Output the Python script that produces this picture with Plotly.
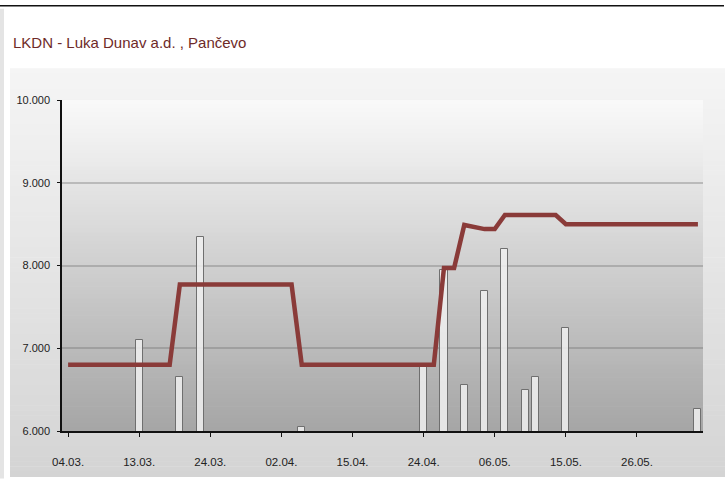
import plotly.graph_objects as go

# ---- data ----
tick_positions = [0, 7, 14, 21, 28, 35, 42, 49, 56]
tick_labels = ["04.03.", "13.03.", "24.03.", "02.04.", "15.04.", "24.04.", "06.05.", "15.05.", "26.05."]

price_x = [0, 10, 11, 22, 23, 36, 37, 38, 39, 40, 41, 42, 43, 48, 49, 62]
price_y = [6800, 6800, 7770, 7770, 6800, 6800, 7970, 7970, 8490, 8460, 8440, 8440, 8610, 8610, 8500, 8500]

bar_x = [7, 11, 13, 23, 35, 37, 39, 41, 43, 45, 46, 49, 62]
bar_y = [7100, 6650, 8350, 6050, 6780, 7950, 6550, 7690, 8200, 6500, 6650, 7250, 6260]

title_text = "LKDN - Luka Dunav a.d. , Pančevo"

# ---- geometry (pixels) ----
W, H = 725, 480
L, R, T, B = 62, 703, 100, 434
pw, ph = R - L, B - T

def px_x(p):
    return (p - L) / pw

def px_y(p):
    return (B - p) / ph

FONT = "Liberation Sans Narrow, Arial Narrow, Liberation Sans, Arial, sans-serif"

shapes = []
n = 80
# outer panel gradient
y0p, y1p = 68, 480
for i in range(n):
    a = y0p + (y1p - y0p) * i / n
    b = y0p + (y1p - y0p) * (i + 1) / n
    t = (i + 0.5) / n
    c = int(round(245 - t * (245 - 212)))
    shapes.append(dict(type="rect", xref="paper", yref="paper", layer="below",
                       x0=px_x(10), x1=px_x(W + 2), y0=px_y(b + 0.5), y1=px_y(a),
                       fillcolor=f"rgb({c},{c},{c})", line=dict(width=0)))
# plot area gradient
for i in range(n):
    t = (i + 0.5) / n
    c = int(round(250 - t * (250 - 165)))
    shapes.append(dict(type="rect", xref="paper", yref="paper", layer="below",
                       x0=0, x1=1, y0=1 - (i + 1) / n - 0.002, y1=1 - i / n,
                       fillcolor=f"rgb({c},{c},{c})", line=dict(width=0)))
# left strip and top black line
shapes.append(dict(type="rect", xref="paper", yref="paper", layer="below",
                   x0=px_x(0), x1=px_x(4), y0=px_y(H + 2), y1=px_y(8),
                   fillcolor="#e4e4e4", line=dict(width=0)))
shapes.append(dict(type="line", xref="paper", yref="paper", layer="above",
                   x0=px_x(0), x1=px_x(724), y0=px_y(5), y1=px_y(5),
                   line=dict(color="#111111", width=1.5)))

fig = go.Figure()
fig.add_trace(go.Bar(
    x=bar_x, y=bar_y, width=0.7,
    marker=dict(color="rgba(240,240,240,0.85)", line=dict(color="#6f6f6f", width=1)),
    showlegend=False,
))
fig.add_trace(go.Scatter(
    x=price_x, y=price_y, mode="lines",
    line=dict(color="#8a3b39", width=4.5),
    showlegend=False,
))

fig.update_layout(
    width=W, height=H,
    margin=dict(l=L, r=W - R, t=T, b=H - B, pad=0),
    paper_bgcolor="white",
    plot_bgcolor="rgba(0,0,0,0)",
    separators=",.",
    shapes=shapes,
    font=dict(family=FONT, size=11, color="#222222"),
    annotations=[dict(
        text=title_text, xref="paper", yref="paper",
        x=px_x(11), y=px_y(42), xanchor="left", yanchor="middle",
        showarrow=False, font=dict(family=FONT, size=15, color="#6e2a28"),
    )],
    bargap=0,
)
fig.update_xaxes(
    range=[-0.6, 62.5],
    tickvals=tick_positions, ticktext=tick_labels,
    showgrid=False, zeroline=False,
    showline=True, linecolor="#111111", linewidth=1.5,
    ticks="outside", ticklen=4, tickcolor="#111111",
    ticklabelstandoff=15,
    tickfont=dict(family=FONT, size=11.5, color="#222222"),
)
fig.update_yaxes(
    range=[6000, 10000],
    tickvals=[6000, 7000, 8000, 9000, 10000],
    tickformat=",d",
    showgrid=True, gridcolor="rgba(110,110,110,0.35)", gridwidth=1.5,
    zeroline=False,
    showline=True, linecolor="#111111", linewidth=1.5,
    ticks="outside", ticklen=3, tickcolor="#111111",
    ticklabelstandoff=5,
    tickfont=dict(family=FONT, size=11, color="#222222"),
)

fig.write_html(
    "out.html",
    config={"displayModeBar": False},
    post_script="document.body.style.margin='0';document.body.style.overflow='hidden';",
)
